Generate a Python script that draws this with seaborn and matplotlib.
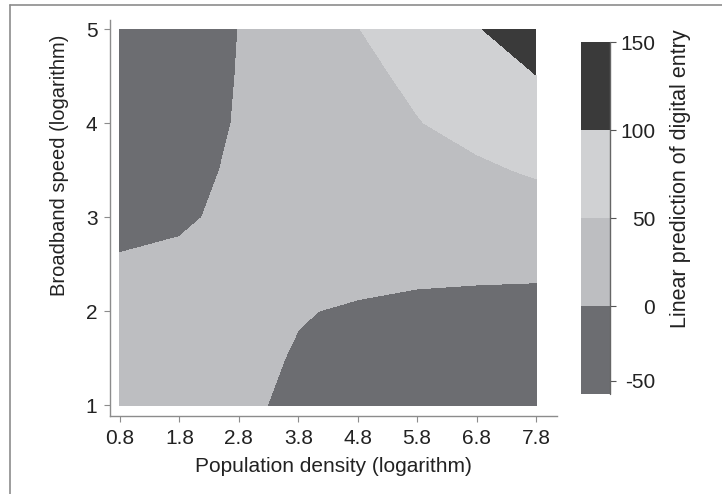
import numpy as np
import seaborn as sns
import matplotlib.pyplot as plt
from matplotlib.lines import Line2D

# === DATA ===
pop_density = [0.8, 1.8, 2.8, 3.8, 4.8, 5.8, 6.8, 7.8]
broadband_speed = [1.0, 1.5, 2.0, 2.5, 3.0, 3.5, 4.0, 4.5, 5.0]

# linear prediction of digital entry, one row per broadband speed
pred_rows = [
    [31.5, 18.6, 6.0, -6.5, -20.2, -33.2, -46.1, -59.0],
    [21.8, 13.5, 5.2, -1.5, -11.5, -19.8, -28.1, -36.4],
    [12.1, 8.4, 4.7, 1.0, -2.0, -6.4, -10.1, -13.8],
    [2.4, 3.3, 4.3, 5.2, 6.1, 7.0, 7.9, 8.9],
    [-7.3, -2.3, 3.8, 9.3, 14.9, 20.4, 26.0, 31.5],
    [-17.0, -6.8, 3.3, 13.5, 23.7, 33.8, 44.0, 54.1],
    [-26.7, -11.9, 1.8, 17.6, 32.4, 48.5, 62.0, 76.8],
    [-36.4, -17.0, 1.2, 21.8, 41.2, 57.0, 80.0, 99.4],
    [-46.1, -22.1, 0.4, 26.0, 49.0, 74.0, 98.0, 122.1],
]
level_breaks = [0, 50, 100, 150]
cbar_ticks = [-50, 0, 50, 100, 150]
band_colors = ["#6c6d71", "#bdbec1", "#d0d1d3", "#3a3a3a"]

sns.set_theme(style="ticks")
plt.rcParams["font.family"] = ["Liberation Sans", "DejaVu Sans"]

fig = plt.figure(figsize=(7.22, 4.94), dpi=100, facecolor="white")
ax = fig.add_axes([110 / 722, 78 / 494, 447 / 722, 396 / 494])
cax = fig.add_axes([581 / 722, 100 / 494, 29 / 722, 352 / 494])

Z = np.array(pred_rows)
levels = [Z.min()] + level_breaks
cs = ax.contourf(pop_density, broadband_speed, Z, levels=levels,
                 colors=band_colors, antialiased=False)

ax.set_xlim(0.632, 8.153)
ax.set_ylim(0.888, 5.096)
ax.set_xticks(pop_density)
ax.set_xticklabels([f"{v:.1f}" for v in pop_density])
ax.set_yticks([1, 2, 3, 4, 5])
sns.despine(ax=ax)
for s in ["left", "bottom"]:
    ax.spines[s].set_color("#8c8c8c")
    ax.spines[s].set_linewidth(1.0)
ax.tick_params(axis="both", length=4, width=0.8, color="#8c8c8c",
               labelsize=15, labelcolor="#222222", pad=5)
ax.set_xlabel("Population density (logarithm)", fontsize=15, color="#222222", labelpad=7)
ax.set_ylabel("Broadband speed (logarithm)", fontsize=14.5, color="#222222")
ax.yaxis.set_label_coords(-0.092, 0.634)

cb = fig.colorbar(cs, cax=cax)
cb.outline.set_visible(False)
cb.set_ticks(cbar_ticks)
cb.set_ticklabels([str(t) for t in cbar_ticks])
cax.tick_params(axis="y", length=4.5, width=0.8, color="#555555",
                labelsize=15, labelcolor="#222222", pad=28)
for lbl in cax.get_yticklabels():
    lbl.set_horizontalalignment("right")
cax.set_ylabel("Linear prediction of digital entry", fontsize=15.5, color="#222222")
cax.yaxis.set_label_coords(3.07, 0.611)
cax.add_line(Line2D([1, 1], [0, 1], transform=cax.transAxes,
                    color="#666666", lw=1.0, clip_on=False))

# figure frame (left and top edges only visible in the original)
fig.add_artist(Line2D([10 / 722, 10 / 722], [0, 1 - 5 / 494],
                      transform=fig.transFigure, color="#8c8c8c", lw=1.2))
fig.add_artist(Line2D([10 / 722, 1], [1 - 5 / 494, 1 - 5 / 494],
                      transform=fig.transFigure, color="#8c8c8c", lw=1.2))

fig.savefig("out.png", dpi=100, facecolor="white")
